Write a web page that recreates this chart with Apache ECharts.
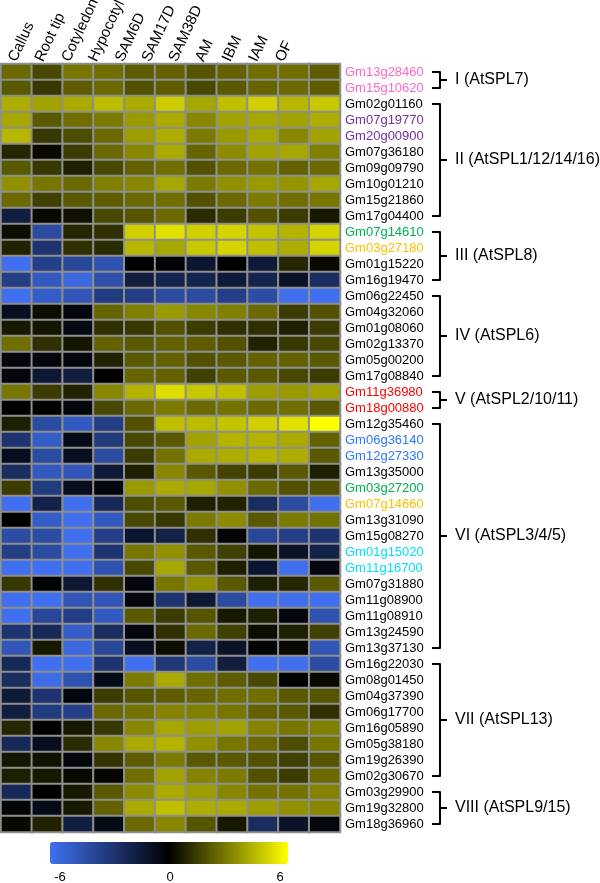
<!DOCTYPE html>
<html>
<head>
<meta charset="utf-8">
<script src="https://cdn.jsdelivr.net/npm/echarts@6/dist/echarts.min.js"></script>
<style>
html,body{margin:0;padding:0;background:#fff;}
#c{width:600px;height:883px;}
</style>
</head>
<body>
<div id="c"></div>
<script>
const columns = ['Callus','Root tip','Cotyledon','Hypocotyl','SAM6D','SAM17D','SAM38D','AM','IBM','IAM','OF'];

const groupNames = ['I (AtSPL7)','II (AtSPL1/12/14/16)','III (AtSPL8)','IV (AtSPL6)','V (AtSPL2/10/11)','VI (AtSPL3/4/5)','VII (AtSPL13)','VIII (AtSPL9/15)'];

const genesI = ['Gm13g28460','Gm15g10620'];
const genesII = ['Gm02g01160','Gm07g19770','Gm20g00900','Gm07g36180','Gm09g09790','Gm10g01210','Gm15g21860','Gm17g04400'];
const genesIII = ['Gm07g14610','Gm03g27180','Gm01g15220','Gm16g19470'];
const genesIV = ['Gm06g22450','Gm04g32060','Gm01g08060','Gm02g13370','Gm05g00200','Gm17g08840'];
const genesV = ['Gm11g36980','Gm18g00880'];
const genesVI = ['Gm12g35460','Gm06g36140','Gm12g27330','Gm13g35000','Gm03g27200','Gm07g14660','Gm13g31090','Gm15g08270','Gm01g15020','Gm11g16700','Gm07g31880','Gm11g08900','Gm11g08910','Gm13g24590','Gm13g37130'];
const genesVII = ['Gm16g22030','Gm08g01450','Gm04g37390','Gm06g17700','Gm16g05890','Gm05g38180','Gm19g26390','Gm02g30670'];
const genesVIII = ['Gm03g29900','Gm19g32800','Gm18g36960'];

const valuesI = [
 [2.5,1.7,2.8,2.6,2.2,2.3,2.0,2.3,2.6,2.6,2.2],
 [2.1,1.3,2.2,2.5,1.9,2.2,1.7,2.1,2.4,2.5,2.2]
];
const valuesII = [
 [4.1,3.8,4.0,4.4,4.0,4.8,3.9,4.5,4.9,4.3,4.7],
 [3.9,2.1,2.6,2.9,3.6,4.0,3.2,3.8,3.9,3.8,4.1],
 [4.3,1.3,1.8,2.5,3.7,4.1,2.9,3.6,3.9,3.2,3.8],
 [0.9,0.2,1.4,2.5,3.2,4.0,2.4,3.3,3.8,3.9,3.0],
 [2.1,1.3,0.7,1.7,2.3,2.6,1.9,2.5,2.7,2.3,2.5],
 [3.4,2.8,2.5,3.0,3.2,3.9,2.9,3.4,3.6,3.5,3.9],
 [2.5,1.5,2.1,2.2,2.5,2.6,1.9,2.5,2.9,2.6,2.8],
 [-1.6,0.2,0.4,1.7,2.0,2.5,1.0,1.4,1.9,1.4,0.6]
];
const valuesIII = [
 [0.3,-4.0,0.9,1.1,4.9,5.3,4.9,5.0,4.6,4.2,5.0],
 [0.8,-2.8,1.1,1.0,4.3,3.9,4.7,5.0,4.5,4.1,5.0],
 [-6,-3.4,-3.8,-4.4,0,-0.1,-1.2,0,-1.4,0.9,0.2],
 [-3.3,-4.8,-5.6,-4.3,-1.6,-2.0,-2.0,-1.4,-2.0,-1.0,-2.4]
];
const valuesIV = [
 [-6,-5.0,-4.6,-3.2,-3.3,-4.0,-4.0,-3.4,-4.1,-6,-6],
 [-0.8,0.3,-0.3,2.4,3.0,3.6,3.2,3.0,2.5,1.4,1.9],
 [0.6,0.5,-0.5,1.1,1.3,1.9,1.4,1.1,1.1,0.7,1.4],
 [2.6,1.1,0.5,2.3,2.1,2.3,2.2,1.9,0.8,1.3,1.7],
 [-0.3,-0.3,-0.3,0.8,2.1,2.3,1.9,2.1,2.3,2.3,2.1],
 [-0.3,-1.3,-1.6,0,2.4,2.3,1.5,2.1,2.1,1.7,1.4]
];
const valuesV = [
 [2.8,1.4,0.8,3.2,4.2,5.2,4.7,4.5,3.7,3.6,3.8],
 [0,0,-0.3,1.7,2.5,2.9,2.5,2.7,2.5,2.6,2.1]
];
const valuesVI = [
 [0.7,-4.0,-4.8,-3.3,1.9,4.5,4.4,4.6,4.9,5.3,6],
 [-2.8,-5.0,-0.6,-3.1,1.7,2.1,3.8,4.2,4.2,4.0,2.3],
 [-0.7,-4.0,-0.8,-4.0,1.4,2.7,4.0,4.1,4.2,4.1,2.1],
 [-2.4,-4.8,-4.6,-1.4,0.7,3.2,2.1,1.6,1.4,2.1,0.7],
 [1.4,-3.2,-0.7,-0.3,3.6,4.0,3.9,3.4,2.5,1.9,1.9],
 [-6,-1.8,-6,-2.2,1.8,2.1,0.7,0.8,-2.4,-4.0,-6],
 [0,-5.0,-6,-4.8,1.7,1.3,2.9,3.3,2.1,2.9,2.7],
 [-4.1,-4.1,-6,-3.4,-1.2,-1.8,1.1,-0.2,-3.8,-3.4,-2.8],
 [-3.3,-4.0,-6,-2.8,2.8,3.4,2.1,1.5,0.5,-1.0,-1.8],
 [-6,-6,-6,-4.4,1.7,3.9,2.1,0.7,-1.2,-6,-0.4],
 [1.3,-0.1,-1.3,1.1,-0.3,2.8,3.4,2.1,0.7,0.9,2.1],
 [-6,-6,-4.6,-4.6,-0.3,-2.8,-1.3,-4.0,-6,-6,-6],
 [-6,-3.8,-3.3,-4.8,2.1,1.4,2.0,0.6,0.7,-0.3,-4.4],
 [-2.8,-2.2,-5.0,-2.4,-0.3,1.1,2.5,1.5,0.3,0.7,1.5],
 [-4.6,0.6,-5.6,-3.8,-0.8,0.3,-1.8,-1.0,-0.2,0.2,-4.6]
];
const valuesVII = [
 [-2.2,-6,-6,-2.8,-6,-3.0,-4.1,-1.6,-6,-6,-4.1],
 [-2.4,-5.8,-4.4,-0.6,2.9,4.0,2.6,2.2,1.7,0,0.2],
 [-1.4,-2.8,-0.3,1.4,2.0,2.2,2.4,2.6,2.6,2.1,2.0],
 [-1.6,-3.2,-3.4,2.5,2.7,3.1,3.0,2.8,2.3,2.1,1.1],
 [0.9,0,0.6,1.3,3.2,3.9,3.7,3.8,3.1,2.8,3.0],
 [-2.2,-0.7,1.0,3.2,4.0,4.2,3.4,2.8,2.5,1.8,2.8],
 [0.5,0.4,-0.3,1.2,2.2,2.9,2.1,2.1,1.9,1.5,2.0],
 [0.7,0.6,0.2,0.1,2.6,3.8,3.1,2.9,1.9,1.4,2.5]
];
const valuesVIII = [
 [-2.2,0,0.6,2.1,3.3,4.0,3.7,3.2,2.7,2.7,3.1],
 [-0.2,-0.6,0.6,2.3,4.0,4.5,4.1,4.0,3.7,3.4,3.2],
 [0.2,0.8,-1.6,-0.6,2.5,3.2,2.0,0.6,-2.4,-1.0,-0.3]
];

const pinkGenes = ['Gm13g28460','Gm15g10620'];
const purpleGenes = ['Gm07g19770','Gm20g00900'];
const greenGenes = ['Gm07g14610','Gm03g27200'];
const orangeGenes = ['Gm03g27180','Gm07g14660'];
const redGenes = ['Gm11g36980','Gm18g00880'];
const blueGenes = ['Gm06g36140','Gm12g27330'];
const cyanGenes = ['Gm01g15020','Gm11g16700'];

const colorbarTicks = [-6, 0, 6];

// ---- build ----
const geneGroups = [genesI,genesII,genesIII,genesIV,genesV,genesVI,genesVII,genesVIII];
const valueGroups = [valuesI,valuesII,valuesIII,valuesIV,valuesV,valuesVI,valuesVII,valuesVIII];
const genes = [].concat(...geneGroups);
const values = [].concat(...valueGroups);

const data = [];
values.forEach((row, r) => row.forEach((v, c) => data.push([c, r, v])));

const labelClass = {};
[['pink',pinkGenes],['purple',purpleGenes],['green',greenGenes],['orange',orangeGenes],
 ['red',redGenes],['blue',blueGenes],['cyan',cyanGenes]].forEach(([k, arr]) => arr.forEach(g => labelClass[g] = k));

const FONT = "'Liberation Sans', Arial, sans-serif";
const rs = (c, s) => ({color: c, fontSize: s || 13, fontFamily: FONT});
const rich = {
  black: rs('#000000'), pink: rs('#ff66cc'), purple: rs('#7030a0'), green: rs('#00b050'),
  orange: rs('#ffc000'), red: rs('#ff0000'), blue: rs('#2e75ff'), cyan: rs('#00e0ff')
};

const HM_LEFT = 1, HM_TOP = 64, HM_W = 339, HM_H = 768;

const chart = echarts.init(document.getElementById('c'), null, {renderer: 'canvas'});
const option = {
  animation: false,
  backgroundColor: '#ffffff',
  textStyle: {fontFamily: FONT},
  grid: [
    {left: HM_LEFT, top: HM_TOP, width: HM_W, height: HM_H},
    {left: 6, top: 63, width: 294, height: 1},
    {left: 60, top: 866, width: 220, height: 1}
  ],
  xAxis: [
    {type: 'category', gridIndex: 0, data: columns, show: false},
    {type: 'category', gridIndex: 1, data: columns, show: false},
    {type: 'value', gridIndex: 2, min: -6, max: 6, interval: 6, show: false}
  ],
  yAxis: [
    {type: 'category', gridIndex: 0, data: genes, inverse: true, position: 'right',
     axisLine: {show: false}, axisTick: {show: false}, splitLine: {show: false},
     axisLabel: {margin: 5, interval: 0, fontSize: 13,
       formatter: v => '{' + (labelClass[v] || 'black') + '|' + v + '}', rich: rich}},
    {type: 'value', gridIndex: 1, show: false},
    {type: 'value', gridIndex: 2, show: false}
  ],
  visualMap: {
    type: 'continuous', min: -6, max: 6, orient: 'horizontal',
    left: 50, top: 842, itemWidth: 22, itemHeight: 238, padding: 0,
    calculable: false, seriesIndex: 0, text: null, showLabel: false,
    inRange: {color: ['#4070f0', '#000000', '#ffff00']}
  },
  series: [{
    type: 'heatmap', xAxisIndex: 0, yAxisIndex: 0, data: data,
    itemStyle: {borderColor: '#8f8f8f', borderWidth: 2},
    emphasis: {disabled: true}
  }]
};
chart.setOption(option);

const graphics = [];
// column headers, placed along the header category axis
const ROT = 65 * Math.PI / 180;
columns.forEach(name => {
  const x = chart.convertToPixel({xAxisIndex: 1}, name);
  graphics.push({
    type: 'text', x: x, y: 64, rotation: ROT, silent: true,
    style: {text: name, fontSize: 15, fontFamily: FONT, fill: '#000',
            align: 'left', verticalAlign: 'bottom'}
  });
});
// colour-bar tick labels, placed along the colour-bar value axis
colorbarTicks.forEach(v => {
  const x = chart.convertToPixel({xAxisIndex: 2}, v);
  graphics.push({
    type: 'text', x: x, y: 877, silent: true,
    style: {text: String(v), fontSize: 13, fontFamily: FONT, fill: '#000',
            align: 'center', verticalAlign: 'middle'}
  });
});
// brackets & group labels, positioned from the y-axis scale
const bx = HM_LEFT + HM_W + 100;
geneGroups.forEach((grp, i) => {
  const y1 = chart.convertToPixel({yAxisIndex: 0}, grp[0]);
  const y2 = chart.convertToPixel({yAxisIndex: 0}, grp[grp.length - 1]);
  const ym = (y1 + y2) / 2;
  graphics.push({
    type: 'polyline', shape: {points: [[bx - 8, y1], [bx, y1], [bx, y2], [bx - 8, y2]]},
    style: {stroke: '#000', lineWidth: 2, fill: null, lineJoin: 'round'}, silent: true
  });
  graphics.push({
    type: 'line', shape: {x1: bx, y1: ym, x2: bx + 7, y2: ym},
    style: {stroke: '#000', lineWidth: 2}, silent: true
  });
  graphics.push({
    type: 'text', x: bx + 15, y: ym,
    style: {text: groupNames[i], fontSize: 16, fontFamily: FONT, fill: '#000',
            verticalAlign: 'middle', align: 'left'}, silent: true
  });
});
chart.setOption({graphic: graphics});
</script>
</body>
</html>
